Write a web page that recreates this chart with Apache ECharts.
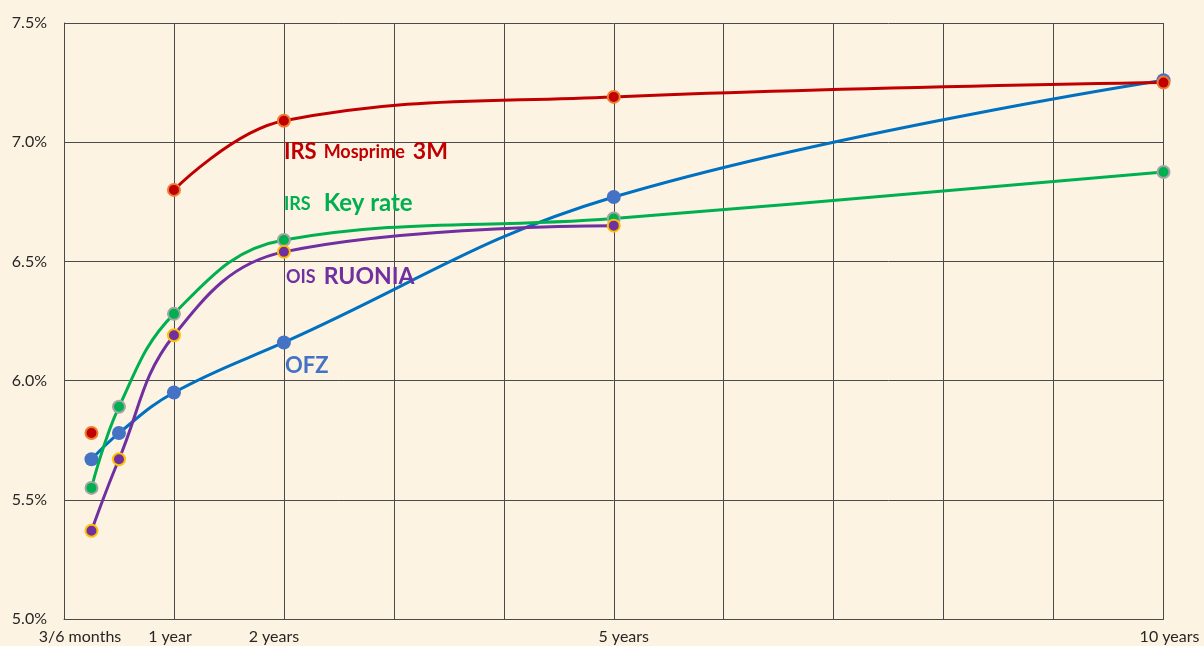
<!DOCTYPE html>
<html>
<head>
<meta charset="utf-8">
<script src="https://cdn.jsdelivr.net/npm/echarts@6/dist/echarts.min.js"></script>
<style>
html,body{margin:0;padding:0;background:#FDF3E2;}
#c{width:1204px;height:646px;}
</style>
</head>
<body>
<div id="c"></div>
<script>
// Tenors in years
var tenors = [0.25, 0.5, 1, 2, 5, 10];
// Tick labels on the x axis (value -> text)
var tickValues = [0, 1, 2, 5, 10];
var tickTexts = ['3/6 months', '1 year', '2 years', '5 years', '10 years'];
// Series values (%), null = no point
var ofz = [5.67, 5.78, 5.95, 6.16, 6.77, 7.26];
var irsKeyRate = [5.55, 5.89, 6.28, 6.59, 6.68, 6.875];
var oisRuonia = [5.37, 5.67, 6.19, 6.54, 6.65, null];
var irsMosprime = [5.78, null, 6.80, 7.09, 7.19, 7.25];

var FONT = 'Lato, "Open Sans", sans-serif';

function pairs(vals) {
  var out = [];
  for (var i = 0; i < tenors.length; i++) {
    out.push([tenors[i], vals[i] == null ? '-' : vals[i]]);
  }
  return out;
}

function withLabel(data, idx, label) {
  data[idx] = { value: data[idx], label: label };
  return data;
}

var shifts = { 0: 32, 1: -8, 2: -20, 5: 20, 10: 12 };

var chart = echarts.init(document.getElementById('c'), null, { renderer: 'canvas' });

function lineSeries(name, vals, lineColor, fill, border, labelIdx, label, z) {
  var data = pairs(vals);
  if (label) withLabel(data, labelIdx, label);
  return {
    name: name,
    type: 'line',
    data: data,
    smooth: 0.4,
    connectNulls: false,
    symbol: 'circle',
    symbolSize: border ? 12 : 14,
    z: z,
    lineStyle: { color: lineColor, width: 3 },
    itemStyle: { color: fill, borderColor: border || fill, borderWidth: border ? 2 : 0, opacity: 1 },
    emphasis: { disabled: true },
    animation: false
  };
}

function tok(color, size) {
  return { color: color, fontFamily: FONT, fontWeight: 'bold', fontSize: size, verticalAlign: 'bottom' };
}

var option = {
  backgroundColor: '#FDF3E2',
  animation: false,
  grid: { left: 64, right: 40.5, top: 23, bottom: 27 },
  xAxis: {
    type: 'value', min: 0, max: 10, interval: 1,
    axisLine: { show: true, lineStyle: { color: '#4a4a4a', width: 1 } },
    axisTick: { show: false },
    splitLine: { show: true, lineStyle: { color: '#4a4a4a', width: 1 } },
    axisLabel: {
      margin: 10,
      color: '#262626',
      fontFamily: FONT,
      fontSize: 16,
      formatter: function (v) {
        var i = tickValues.indexOf(v);
        if (i < 0) return '';
        var s = shifts[v];
        return '{' + (s >= 0 ? 'r' : 'l') + Math.abs(s) + '|' + tickTexts[i] + '}';
      },
      rich: (function () {
        var r = {};
        Object.keys(shifts).forEach(function (k) {
          var s = shifts[k];
          var key = (s >= 0 ? 'r' : 'l') + Math.abs(s);
          r[key] = { fontFamily: FONT, fontSize: 16, color: '#262626',
            padding: s >= 0 ? [0, 0, 0, s] : [0, -s, 0, 0] };
        });
        return r;
      })()
    }
  },
  yAxis: {
    type: 'value', min: 5, max: 7.5, interval: 0.5,
    axisLine: { show: true, lineStyle: { color: '#4a4a4a', width: 1 } },
    axisTick: { show: false },
    splitLine: { show: true, lineStyle: { color: '#4a4a4a', width: 1 } },
    axisLabel: {
      margin: 17, color: '#262626', fontFamily: FONT, fontSize: 16,
      formatter: function (v) { return v.toFixed(1) + '%'; }
    }
  },
  series: [
    lineSeries('OFZ', ofz, '#0070C0', '#4472C4', null, 3, {
      show: true, position: [8, 19], align: 'left', verticalAlign: 'top',
      formatter: '{b|OFZ}',
      rich: { b: tok('#4472C4', 22) }
    }, 2),
    lineSeries('IRS Key rate', irsKeyRate, '#00B050', '#00B050', '#A5A5A5', 3, {
      show: true, position: [7, -42], align: 'left', verticalAlign: 'top',
      formatter: '{s|IRS}{b|Key rate}',
      rich: {
        s: Object.assign(tok('#00B050', 18), { padding: [0, 13, 2, 0] }),
        b: tok('#00B050', 24)
      }
    }, 3),
    lineSeries('OIS RUONIA', oisRuonia, '#7030A0', '#7030A0', '#FFC000', 3, {
      show: true, position: [9, 20], align: 'left', verticalAlign: 'top',
      formatter: '{s|OIS}{b|RUONIA}',
      rich: {
        s: Object.assign(tok('#7030A0', 18), { padding: [0, 8, 2, 0] }),
        b: tok('#7030A0', 23)
      }
    }, 4),
    lineSeries('IRS Mosprime 3M', irsMosprime, '#C00000', '#C00000', '#ED7D31', 3, {
      show: true, position: [7, 26], align: 'left', verticalAlign: 'top',
      formatter: '{b|IRS}{s|Mosprime}{c|3M}',
      rich: {
        b: Object.assign(tok('#C00000', 22), { padding: [0, 7, 0, 0] }),
        s: Object.assign(tok('#C00000', 18), { padding: [0, 8, 2, 0] }),
        c: tok('#C00000', 23)
      }
    }, 5)
  ]
};
chart.setOption(option);
</script>
</body>
</html>
